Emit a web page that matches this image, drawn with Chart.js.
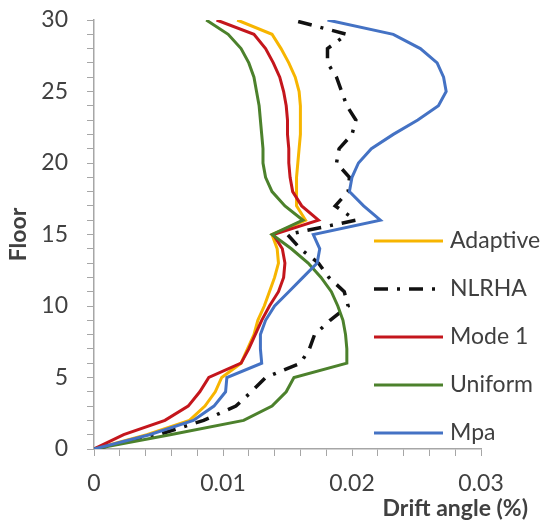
<!DOCTYPE html>
<html>
<head>
<meta charset="utf-8">
<script src="https://cdn.jsdelivr.net/npm/chart.js@4.4.1/dist/chart.umd.min.js"></script>
<style>
  html, body { margin: 0; padding: 0; background: #fff; }
</style>
</head>
<body>
<canvas id="driftChart" width="553" height="529"></canvas>
<script>
// floors 0..30 and drift angle per floor
var floors = [0,1,2,3,4,5,6,7,8,9,10,11,12,13,14,15,16,17,18,19,20,21,22,23,24,25,26,27,28,29,30];

var adaptive = [0,0.0041,0.0074,0.0086,0.0094,0.0099,0.0114,0.0119,0.0124,0.0127,0.0132,
  0.0136,0.0140,0.0143,0.0142,0.0138,0.0164,0.0157,0.0157,0.0157,0.0158,
  0.0159,0.0160,0.0160,0.0160,0.0159,0.0156,0.0151,0.0145,0.0138,0.0111];

var nlrha = [0,0.0050,0.0085,0.0110,0.0122,0.0133,0.0160,0.0167,0.0171,0.0183,0.0197,
  0.0194,0.0182,0.0174,0.0160,0.0150,0.0203,0.0187,0.0197,0.0198,0.0188,
  0.0190,0.0200,0.0203,0.0196,0.0192,0.0188,0.0181,0.0181,0.0196,0.0154];

var mode1 = [0,0.0023,0.0055,0.0073,0.0082,0.0089,0.0114,0.0120,0.0125,0.0130,0.0136,
  0.0143,0.0147,0.0148,0.0146,0.0139,0.0174,0.0161,0.0154,0.0152,0.0151,
  0.0151,0.0150,0.0150,0.0149,0.0147,0.0144,0.0139,0.0133,0.0124,0.0095];

var uniform = [0,0.0059,0.0116,0.0138,0.0149,0.0155,0.0196,0.0196,0.0195,0.0193,0.0189,
  0.0184,0.0176,0.0166,0.0153,0.0138,0.0162,0.0148,0.0138,0.0133,0.0131,
  0.0131,0.0130,0.0129,0.0128,0.0126,0.0124,0.0120,0.0114,0.0104,0.0087];

var mpa = [0,0.0043,0.0077,0.0093,0.0102,0.0103,0.0130,0.0129,0.0129,0.0133,0.0140,
  0.0151,0.0162,0.0173,0.0175,0.0170,0.0222,0.0209,0.0198,0.0200,0.0205,
  0.0215,0.0232,0.0251,0.0267,0.0273,0.0271,0.0266,0.0253,0.0232,0.0181];

var seriesNames = ['Adaptive', 'NLRHA', 'Mode 1', 'Uniform', 'Mpa'];
var seriesData = [adaptive, nlrha, mode1, uniform, mpa];
var colors = ['#F7B500', '#111111', '#C4161C', '#4C812C', '#4472C4'];
var dashes = [[], [14, 9, 3, 9], [], [], []];

var textColor = '#404040';
var axisColor = '#A6A6A6';
var fontFam = 'Lato, "Open Sans", sans-serif';

function toPoints(vals) {
  var pts = [];
  for (var i = 0; i < vals.length; i++) {
    pts.push({ x: vals[i], y: floors[i] });
  }
  return pts;
}

var datasets = [];
for (var s = 0; s < seriesNames.length; s++) {
  datasets.push({
    label: seriesNames[s],
    data: toPoints(seriesData[s]),
    borderColor: colors[s],
    backgroundColor: colors[s],
    borderWidth: s == 1 ? 3.5 : 3,
    borderDash: dashes[s],
    pointRadius: 0,
    showLine: true,
    tension: 0,
    order: seriesNames.length - s
  });
}

// legend sits inside the plot on the right, like the original
var sideLegend = {
  id: 'sideLegend',
  afterDraw: function(chart) {
    var c = chart.ctx;
    c.save();
    for (var i = 0; i < chart.data.datasets.length; i++) {
      var ds = chart.data.datasets[i];
      var y = 241 + i * 48;
      c.beginPath();
      c.strokeStyle = ds.borderColor;
      c.lineWidth = ds.borderWidth;
      c.setLineDash(ds.borderDash);
      c.moveTo(374, y);
      c.lineTo(443, y);
      c.stroke();
      c.setLineDash([]);
      c.fillStyle = textColor;
      c.font = '23px ' + fontFam;
      c.textAlign = 'left';
      c.textBaseline = 'middle';
      c.fillText(ds.label, 450, y);
    }
    c.font = 'bold 23px ' + fontFam;
    c.textAlign = 'right';
    c.textBaseline = 'middle';
    c.fillText('Drift angle (%)', 528, 509);
    c.restore();
  }
};

var ctx = document.getElementById('driftChart').getContext('2d');
var driftChart = new Chart(ctx, {
  type: 'scatter',
  data: { datasets: datasets },
  plugins: [sideLegend],
  options: {
    responsive: false,
    animation: false,
    layout: { padding: { left: 0, top: 20, right: 72, bottom: 0 } },
    plugins: {
      legend: { display: false },
      tooltip: { enabled: false }
    },
    scales: {
      x: {
        type: 'linear',
        min: 0,
        max: 0.03,
        afterFit: function(scale) {
          scale.height = 80;
          scale.paddingLeft = 0;
          scale.paddingRight = 0;
        },
        ticks: {
          stepSize: 0.002,
          autoSkip: false,
          maxRotation: 0,
          padding: 14,
          color: textColor,
          font: { family: fontFam, size: 23 },
          callback: function(v) {
            var h = v * 100;
            if (Math.abs(h - Math.round(h)) < 1e-6) {
              return Math.round(h) == 0 ? '0' : (Math.round(h) / 100).toString();
            }
            return '';
          }
        },
        grid: { drawOnChartArea: false, drawTicks: true, tickLength: 7, color: axisColor },
        border: { color: axisColor, width: 1.5 }
      },
      y: {
        type: 'linear',
        min: 0,
        max: 30,
        afterFit: function(scale) {
          scale.width = 94;
          scale.paddingTop = 0;
          scale.paddingBottom = 0;
        },
        ticks: {
          stepSize: 1,
          autoSkip: false,
          padding: 19,
          color: textColor,
          font: { family: fontFam, size: 23 },
          callback: function(v) { return v % 5 == 0 ? String(v) : ''; }
        },
        grid: { drawOnChartArea: false, drawTicks: true, tickLength: 7, color: axisColor },
        border: { color: axisColor, width: 1.5 },
        title: {
          display: true,
          text: 'Floor',
          color: textColor,
          font: { family: fontFam, size: 23, weight: 'bold' },
          padding: { top: 5, bottom: 0 }
        }
      }
    }
  }
});
</script>
</body>
</html>
